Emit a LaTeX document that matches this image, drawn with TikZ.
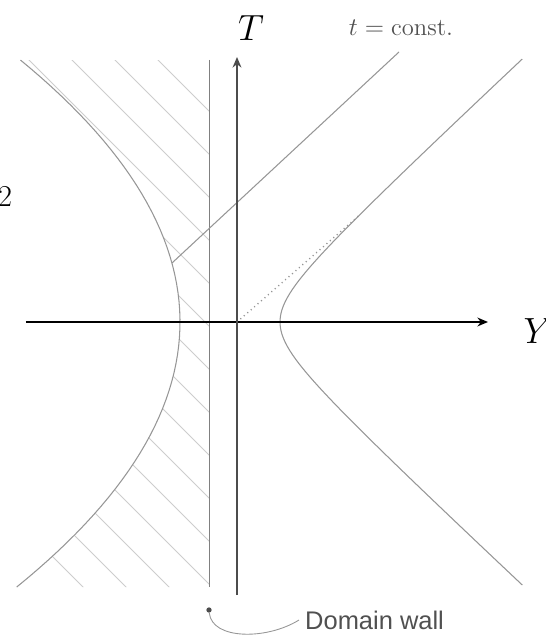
\documentclass[tikz,border=0pt]{standalone}
\usepackage{fontspec}
\newfontfamily\wallfont{Liberation Sans}
\usetikzlibrary{arrows.meta, positioning, calc}
\definecolor{curvegray}{RGB}{150,150,150}
\definecolor{hatchgray}{RGB}{205,205,205}
\definecolor{textgray}{RGB}{80,80,80}

\begin{document}
\begin{tikzpicture}[x=0.02cm, y=0.02cm,
    axis/.style={line width=1.1pt, -{Stealth[length=6pt, width=5pt]}},
    branch/.style={draw=curvegray, line width=0.6pt},
    hatch/.style={draw=hatchgray, line width=0.5pt},
    wallline/.style={draw=black!50, line width=0.5pt},
    bigmath/.style={font=\fontsize{21}{24}\selectfont}
]
    \useasboundingbox (-237,-313) rectangle (309,322);

    % Points of the picture
    \coordinate (O) at (0,0);
    \coordinate (Ttop) at (0,265);
    \coordinate (Tbot) at (0,-273);
    \coordinate (Yleft) at (-211,0);
    \coordinate (Yright) at (251,0);
    \coordinate (Wtop) at (-28,262);
    \coordinate (Wbot) at (-28,-265);
    \coordinate (Lstart) at (-65,59);
    \coordinate (Lend) at (162,270);
    \coordinate (Aend) at ({43*cosh(1.7)},{40.1*sinh(1.7)});

    % Hatched region between the left branch and the wall
    \begin{scope}
        \clip plot[domain=-12.78:12.63, samples=60] ({-57-\x*\x}, {20.74*\x}) -- (-28,262) -- (-28,-265) -- cycle;
        \foreach \d in {183,140,...,-422}
            \draw[hatch] (-300,{\d+300}) -- (0,\d);
    \end{scope}

    % Left branch, wall and right branch
    \draw[branch] plot[domain=-12.78:12.63, samples=60] ({-57-\x*\x}, {20.74*\x});
    \draw[wallline] (Wtop) -- (Wbot);
    \draw[branch] plot[domain=-2.58:2.58, samples=60] ({43*cosh(\x)}, {40.1*sinh(\x)});

    % Asymptote and t = const line
    \draw[branch, dotted, line width=0.8pt] (O) -- (Aend);
    \draw[branch] (Lstart) -- (Lend);

    % Axes
    \draw[axis] (Yleft) -- (Yright);
    \draw[axis, black!70, line width=1.2pt] (Tbot) -- (Ttop);

    % Labels
    \node[bigmath] (Tlabel) at (14,294) {$T$};
    \node[bigmath] (Ylabel) at (301,-9) {$Y$};
    \node[font=\fontsize{17.5}{20}\selectfont] (two) at (-232,125) {$2$};
    \node[font=\fontsize{14}{16}\selectfont, textgray] (tconst) at (164,294) {$t = \mathrm{const.}$};

    % Domain wall marker
    \node[circle, fill=black!70, inner sep=0pt, minimum size=3pt] (dot) at (-28,-288) {};
    \node[font=\wallfont\fontsize{14.5}{17}\selectfont, textgray, anchor=west] (dwlabel) at (62,-298) {Domain wall};
    \draw[curvegray, line width=0.5pt] (dot) .. controls (-25,-318) and (30,-318) .. (dwlabel.west);
\end{tikzpicture}
\end{document}
